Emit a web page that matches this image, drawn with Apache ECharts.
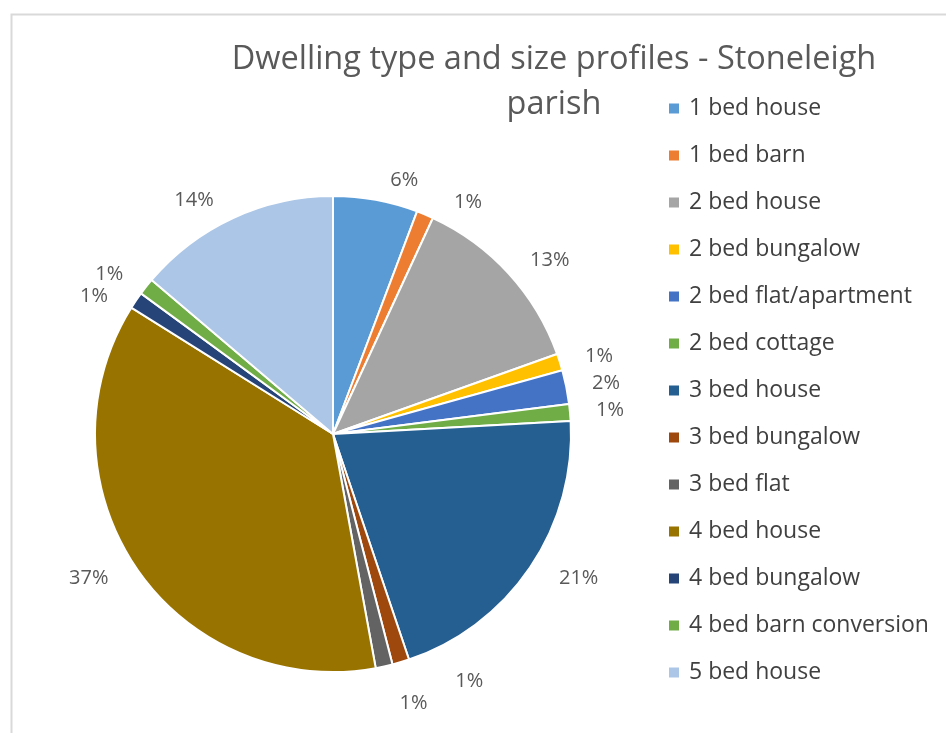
<!DOCTYPE html>
<html>
<head>
<meta charset="utf-8">
<script src="https://cdn.jsdelivr.net/npm/echarts@6/dist/echarts.min.js"></script>
<style>html,body{margin:0;padding:0;background:#fff;}#chart{width:946px;height:733px;}</style>
</head>
<body>
<div id="chart"></div>
<script>
const categories = ["1 bed house","1 bed barn","2 bed house","2 bed bungalow","2 bed flat/apartment","2 bed cottage","3 bed house","3 bed bungalow","3 bed flat","4 bed house","4 bed bungalow","4 bed barn conversion","5 bed house"];
const counts = [5,1,11,1,2,1,18,1,1,32,1,1,12];
const colors = ["#5B9BD5","#ED7D31","#A5A5A5","#FFC000","#4472C4","#70AD47","#255E91","#9E480E","#636363","#997300","#264478","#70AD47","#ABC6E6"];
const titleText = "Dwelling type and size profiles - Stoneleigh\nparish";

const total = counts.reduce((a,b)=>a+b,0);
const FONT = "Open Sans";
const chart = echarts.init(document.getElementById('chart'));
chart.setOption({
  backgroundColor: '#fff',
  animation: false,
  color: colors,
  graphic: [{
    type: 'rect', left: 9, top: 12, silent: true,
    shape: {width: 960, height: 760},
    style: {fill: 'none', stroke: '#d9d9d9', lineWidth: 2}
  }],
  title: {
    text: titleText,
    left: 554, top: 37, textAlign: 'center', padding: 0,
    textStyle: {fontFamily: FONT, fontSize: 32.5, fontWeight: 'normal', color: '#595959', lineHeight: 45}
  },
  legend: {
    orient: 'vertical', left: 667, top: 96, padding: 0,
    itemWidth: 12, itemHeight: 12, itemGap: 22,
    icon: 'rect',
    textStyle: {fontFamily: FONT, fontSize: 23, color: '#404040', lineHeight: 25, padding: [0,0,0,4]},
    data: categories
  },
  series: [{
    type: 'pie',
    center: [333, 434],
    radius: 238,
    startAngle: 90,
    clockwise: true,
    avoidLabelOverlap: true,
    itemStyle: {borderColor: '#fff', borderWidth: 2},
    label: {
      show: true, position: 'outside',
      fontFamily: FONT, fontSize: 20, color: '#595959',
      formatter: p => Math.round(p.value / total * 100) + '%'
    },
    labelLine: {show: false, length: 20, length2: 6},
    data: categories.map((c,i)=>({name: c, value: counts[i]}))
  }]
});
</script>
</body>
</html>
